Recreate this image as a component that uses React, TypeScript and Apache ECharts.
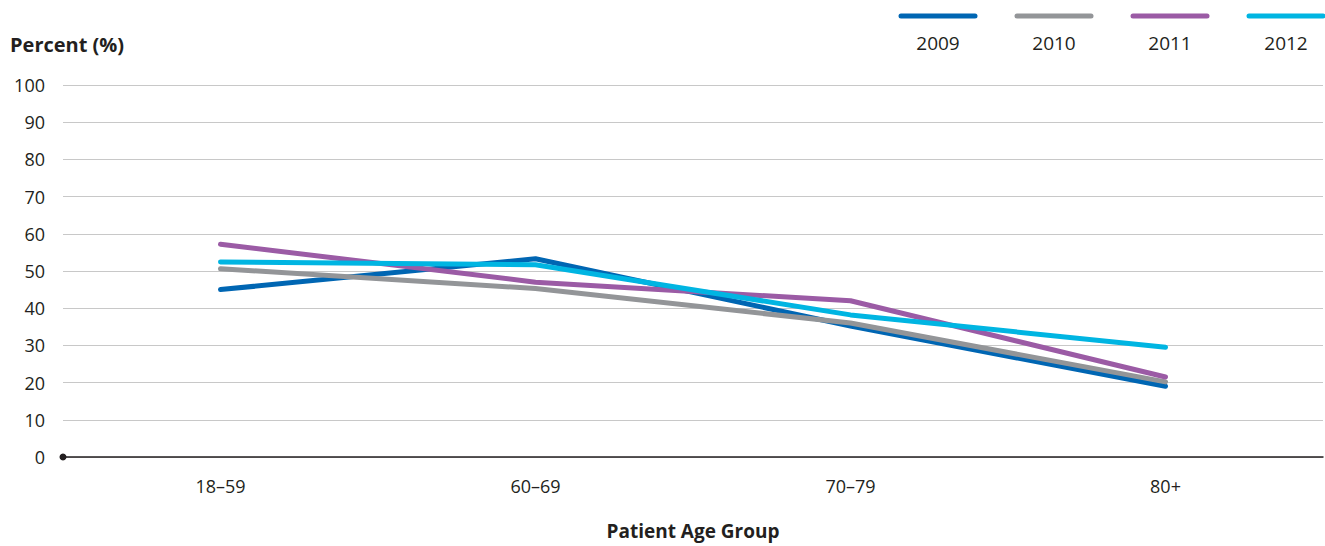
import React, { useEffect, useRef } from "react";
import * as echarts from "echarts";

const categories = ["18–59", "60–69", "70–79", "80+"];
const years = ["2009", "2010", "2011", "2012"];
const values2009 = [45, 53.3, 35.2, 19];
const values2010 = [50.6, 45.3, 36, 20.2];
const values2011 = [57.2, 47, 42, 21.5];
const values2012 = [52.4, 51.7, 38.2, 29.5];
const colors = ["#0066b3", "#939598", "#9b5ba5", "#00b5e2"];
const yTicks = [0, 10, 20, 30, 40, 50, 60, 70, 80, 90, 100];

const FONT = "'Open Sans', Lato, sans-serif";

export default function App() {
  const ref = useRef<HTMLDivElement>(null);
  useEffect(() => {
    if (!ref.current) return;
    const chart = echarts.init(ref.current, undefined, { renderer: "svg" });
    const seriesData = [values2009, values2010, values2011, values2012];
    const legendGraphics: any[] = [];
    years.forEach((y, i) => {
      const x0 = 899 + i * 116;
      legendGraphics.push({
        type: "line",
        shape: { x1: x0 + 2, y1: 16, x2: x0 + 76, y2: 16 },
        style: { stroke: colors[i], lineWidth: 5, lineCap: "round" },
      });
      legendGraphics.push({
        type: "text",
        x: x0 + 39,
        y: 43,
        style: {
          text: y,
          fill: "#231f20",
          font: `19px ${FONT}`,
          textAlign: "center",
          textVerticalAlign: "middle",
        },
      });
    });
    chart.setOption({
      animation: false,
      grid: { left: 63, right: 2, top: 85, bottom: 89, containLabel: false },
      graphic: [
        {
          type: "text",
          x: 10,
          y: 44,
          style: {
            text: "Percent (%)",
            fill: "#231f20",
            font: `bold 20px ${FONT}`,
            textVerticalAlign: "middle",
          },
        },
        {
          type: "text",
          x: 693,
          y: 531,
          style: {
            text: "Patient Age Group",
            fill: "#231f20",
            font: `bold 19px ${FONT}`,
            textAlign: "center",
            textVerticalAlign: "middle",
          },
        },
        ...legendGraphics,
      ],
      xAxis: {
        type: "category",
        data: categories,
        boundaryGap: true,
        axisLine: {
          show: true,
          lineStyle: { color: "#231f20", width: 1.5 },
          symbol: ["circle", "none"],
          symbolSize: [7, 7],
          symbolOffset: [0, 0],
        },
        axisTick: { show: false },
        axisLabel: { color: "#231f20", fontSize: 18, fontFamily: FONT, margin: 20 },
      },
      yAxis: {
        type: "value",
        min: yTicks[0],
        max: yTicks[yTicks.length - 1],
        interval: 10,
        axisLine: { show: false },
        axisTick: { show: false },
        axisLabel: { color: "#231f20", fontSize: 18, fontFamily: FONT, margin: 18 },
        splitLine: { lineStyle: { color: "#c8c8c8", width: 1.2 } },
      },
      series: years.map((y, i) => ({
        name: y,
        type: "line",
        data: seriesData[i],
        symbol: "none",
        lineStyle: { color: colors[i], width: 5, cap: "round", join: "round" },
        itemStyle: { color: colors[i] },
      })),
    });
    return () => chart.dispose();
  }, []);
  return (
    <div
      ref={ref}
      style={{ position: "fixed", left: 0, top: 0, width: 1325, height: 546, background: "#fff" }}
    />
  );
}
